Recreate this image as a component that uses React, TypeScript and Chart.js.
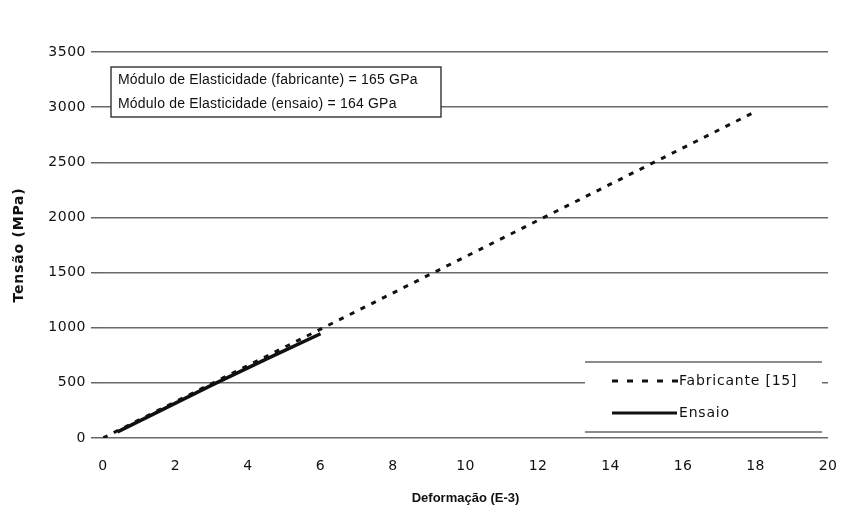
import React, { useEffect, useRef } from "react";
import { Chart, registerables } from "chart.js";

Chart.register(...registerables);

const fabricanteX = [0, 18];
const fabricanteY = [0, 2960];
const ensaioX = [0.4, 1.5, 3.0, 4.5, 6.0];
const ensaioY = [55, 235, 480, 715, 945];
const xTicks = [0, 2, 4, 6, 8, 10, 12, 14, 16, 18, 20];
const yTicks = [0, 500, 1000, 1500, 2000, 2500, 3000, 3500];
const annotationLines = [
  "Módulo de Elasticidade (fabricante) = 165 GPa",
  "Módulo de Elasticidade (ensaio) = 164 GPa",
];
const legendLabels = ["Fabricante [15]", "Ensaio"];

const FONT = "Arial, 'Liberation Sans', sans-serif";
const WIDE = "'DejaVu Sans', Arial, sans-serif";

function spaced(s: any, labelsSpacing: string, titleSpacing: string) {
  const proto = Object.getPrototypeOf(s);
  s.drawLabels = function (area: any) {
    const ctx = this.ctx;
    ctx.letterSpacing = labelsSpacing;
    proto.drawLabels.call(this, area);
    ctx.letterSpacing = "0px";
  };
  s.drawTitle = function (area: any) {
    const ctx = this.ctx;
    ctx.letterSpacing = titleSpacing;
    proto.drawTitle.call(this, area);
    ctx.letterSpacing = "0px";
  };
}

const boxesPlugin = {
  id: "boxes",
  afterDraw(chart: any) {
    const ctx = chart.ctx;
    ctx.save();
    // annotation box
    ctx.fillStyle = "#fff";
    ctx.fillRect(111, 67, 330, 50);
    ctx.strokeStyle = "#222";
    ctx.lineWidth = 1.3;
    ctx.strokeRect(111, 67, 330, 50);
    ctx.fillStyle = "#111";
    ctx.font = `14px ${FONT}`;
    ctx.letterSpacing = "0.2px";
    ctx.textBaseline = "middle";
    ctx.textAlign = "left";
    ctx.fillText(annotationLines[0], 118, 80);
    ctx.fillText(annotationLines[1], 118, 104);

    // legend
    ctx.fillStyle = "#fff";
    ctx.fillRect(585, 362, 237, 70);
    ctx.strokeStyle = "#666";
    ctx.lineWidth = 1.3;
    ctx.beginPath();
    ctx.moveTo(585, 362);
    ctx.lineTo(822, 362);
    ctx.moveTo(585, 432);
    ctx.lineTo(822, 432);
    ctx.stroke();
    ctx.strokeStyle = "#111";
    ctx.lineWidth = 3;
    ctx.setLineDash([6, 9]);
    ctx.beginPath();
    ctx.moveTo(612, 381);
    ctx.lineTo(678, 381);
    ctx.stroke();
    ctx.setLineDash([]);
    ctx.beginPath();
    ctx.moveTo(612, 413);
    ctx.lineTo(677, 413);
    ctx.stroke();
    ctx.fillStyle = "#111";
    ctx.font = `14px ${WIDE}`;
    ctx.letterSpacing = "0.8px";
    ctx.fillText(legendLabels[0], 679, 381);
    ctx.fillText(legendLabels[1], 679, 413);
    ctx.letterSpacing = "0px";
    ctx.restore();
  },
};

export default function App() {
  const ref = useRef<HTMLCanvasElement>(null);
  useEffect(() => {
    document.body.style.margin = "0";
    const chart = new Chart(ref.current!, {
      type: "scatter",
      data: {
        datasets: [
          {
            label: legendLabels[0],
            data: fabricanteX.map((x, i) => ({ x, y: fabricanteY[i] })),
            showLine: true,
            borderColor: "#111",
            borderWidth: 3,
            borderDash: [5, 7],
            pointRadius: 0,
          },
          {
            label: legendLabels[1],
            data: ensaioX.map((x, i) => ({ x, y: ensaioY[i] })),
            showLine: true,
            borderColor: "#111",
            borderWidth: 3.5,
            pointRadius: 0,
          },
        ],
      },
      options: {
        animation: false,
        responsive: false,
        layout: { padding: { left: 0, right: 10, top: 52, bottom: 0 } },
        plugins: { legend: { display: false }, tooltip: { enabled: false } },
        scales: {
          x: {
            type: "linear",
            min: 0,
            max: 20,
            afterBuildTicks: (s: any) => {
              s.ticks = xTicks.map((v) => ({ value: v }));
            },
            afterFit: (s: any) => {
              s.height = 72;
              spaced(s, "0.5px", "0px");
            },
            grid: { display: false },
            border: { display: false },
            ticks: {
              color: "#111",
              font: { family: WIDE, size: 14 },
              padding: 12,
              callback: (v: any) => String(v),
            },
            title: {
              display: true,
              text: "Deformação (E-3)",
              color: "#111",
              font: { family: FONT, size: 13, weight: "bold" },
              padding: { top: 4 },
            },
          },
          y: {
            min: 0,
            max: 3500,
            afterBuildTicks: (s: any) => {
              s.ticks = yTicks.map((v) => ({ value: v }));
            },
            afterFit: (s: any) => {
              s.width = 103;
              spaced(s, "0.5px", "0.8px");
            },
            grid: {
              color: "#6a6a6a",
              lineWidth: 1.5,
              tickLength: 12,
              tickColor: "#666",
            },
            border: { display: false },
            ticks: {
              color: "#111",
              font: { family: WIDE, size: 14 },
              padding: 5,
              callback: (v: any) => String(v),
            },
            title: {
              display: true,
              text: "Tensão (MPa)",
              color: "#111",
              font: { family: WIDE, size: 14, weight: "bold" },
              padding: { top: 11, bottom: 0 },
            },
          },
        },
      },
      plugins: [boxesPlugin],
    });
    return () => chart.destroy();
  }, []);
  return (
    <div style={{ width: 849, height: 510, background: "#fff" }}>
      <canvas ref={ref} width={849} height={510} style={{ display: "block" }} />
    </div>
  );
}
